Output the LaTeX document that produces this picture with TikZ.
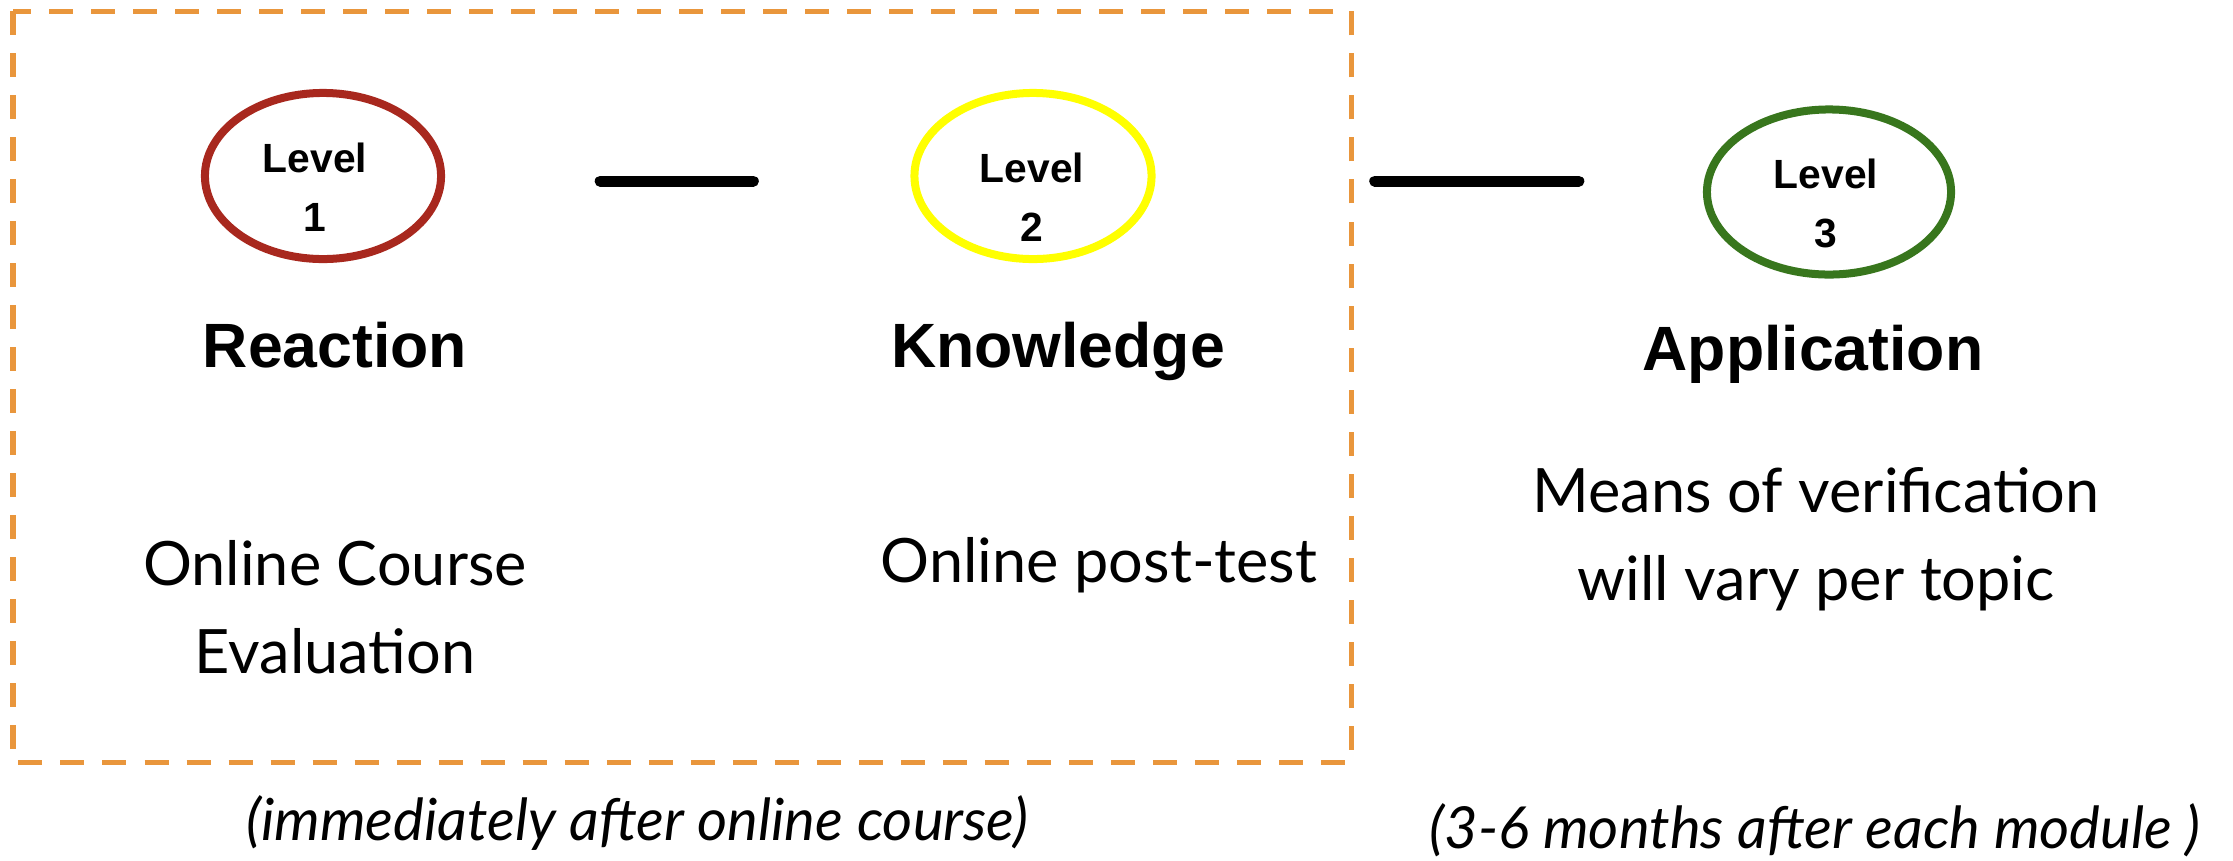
\documentclass[tikz,border=0pt]{standalone}
\usepackage{fontspec}
\setmainfont{Lato}
\newfontfamily\arialfont{Liberation Sans}
\usetikzlibrary{shapes.geometric, positioning}

\definecolor{boxorange}{RGB}{233,150,60}
\definecolor{lvred}{RGB}{168,40,30}
\definecolor{lvyellow}{RGB}{255,255,0}
\definecolor{lvgreen}{RGB}{56,118,29}

\tikzstyle{lvring} = [ellipse, draw, minimum width = 2.36cm, minimum height = 1.66cm, inner sep = 0pt, line width = 0.08cm]
\tikzstyle{lvtext} = [align = center, inner sep = 0pt, font = \arialfont\bfseries\fontsize{11.6}{16.8}\selectfont]
\tikzstyle{title} = [anchor = base, inner sep = 0pt, font = \arialfont\bfseries\fontsize{17.8}{21}\selectfont]
\tikzstyle{method} = [anchor = base, align = center, inner sep = 0pt, font = \fontsize{17.4}{25}\selectfont]
\tikzstyle{timing} = [anchor = base, inner sep = 0pt, font = \itshape\fontsize{16.5}{20}\selectfont]
\tikzstyle{link} = [draw, line width = 0.11cm, line cap = round]
\tikzstyle{dashbox} = [draw = boxorange, line width = 0.05cm, dash pattern = on 0.24cm off 0.18cm]

\begin{document}
\begin{tikzpicture}[x = 0.01cm, y = -0.01cm]
        \useasboundingbox (0, 0) rectangle (2233, 860);

        \draw[dashbox] (13, 11) rectangle (1351, 762);

        \node[lvring, draw = lvred] (L1) at (323, 176) {};
        \node[lvring, draw = lvyellow, minimum width = 2.37cm] (L2) at (1033, 176) {};
        \node[lvring, draw = lvgreen, minimum width = 2.44cm, minimum height = 1.65cm] (L3) at (1829, 192) {};

        \node[lvtext] (t1) at (315, 187) {Level\\1};
        \node[lvtext] (t2) at (1032, 197) {Level\\2};
        \node[lvtext] (t3) at (1826, 203) {Level\\3};

        \coordinate (bar) at (0, 181);
        \path[link, shorten <= 1.55cm, shorten >= 1.57cm] (L1.east |- bar) -- (L2.west |- bar);
        \path[link, shorten <= 2.19cm, shorten >= 1.24cm] (L2.east |- bar) -- (L3.west |- bar);

        \node[title] (reaction) at (335, 367) {Reaction};
        \node[title] (knowledge) at (1058, 367) {Knowledge};
        \node[title] (application) at (1813, 370) {Application};

        \node[method] (eval) at (335, 673) {Online Course\\Evaluation};
        \node[method] (posttest) at (1099, 582) {Online post-test};
        \node[method] (verify) at (1816, 600) {Means of verification\\will vary per topic};

        \node[timing] (soon) at (637, 840) {(immediately after online course)};
        \node[timing] (later) at (1815, 848) {(3-6 months after each module )};
\end{tikzpicture}
\end{document}
